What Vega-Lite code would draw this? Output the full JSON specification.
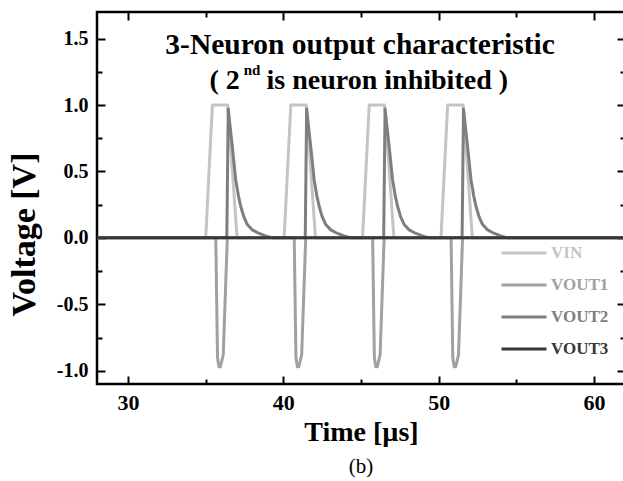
{
 "$schema": "https://vega.github.io/schema/vega-lite/v6.json",
 "width": 528,
 "height": 372,
 "autosize": {"type": "none"},
 "padding": {"left": 97, "top": 12, "right": 0, "bottom": 97},
 "background": "white",
 "config": {
  "view": {"stroke": "black", "strokeWidth": 2.5},
  "font": "Liberation Serif",
  "axis": {"grid": false}
 },
 "title": {"text": "(b)", "orient": "bottom", "anchor": "middle", "fontSize": 21, "fontWeight": "normal", "font": "Liberation Serif", "color": "black", "offset": 10},
 "data": {"values": [
  {"s":"VIN","t":28,"v":0},
  {"s":"VIN","t":35.0,"v":0},{"s":"VIN","t":35.43,"v":1},{"s":"VIN","t":36.42,"v":1},{"s":"VIN","t":37.02,"v":0},
  {"s":"VIN","t":40.05,"v":0},{"s":"VIN","t":40.48,"v":1},{"s":"VIN","t":41.47,"v":1},{"s":"VIN","t":42.07,"v":0},
  {"s":"VIN","t":45.1,"v":0},{"s":"VIN","t":45.53,"v":1},{"s":"VIN","t":46.52,"v":1},{"s":"VIN","t":47.12,"v":0},
  {"s":"VIN","t":50.15,"v":0},{"s":"VIN","t":50.58,"v":1},{"s":"VIN","t":51.57,"v":1},{"s":"VIN","t":52.17,"v":0},
  {"s":"VIN","t":62,"v":0},
  {"s":"VOUT1","t":28,"v":0},
  {"s":"VOUT1","t":35.65,"v":0},{"s":"VOUT1","t":35.76,"v":-0.9},{"s":"VOUT1","t":35.85,"v":-0.97},{"s":"VOUT1","t":35.95,"v":-0.97},{"s":"VOUT1","t":36.13,"v":-0.88},{"s":"VOUT1","t":36.39,"v":0},
  {"s":"VOUT1","t":40.7,"v":0},{"s":"VOUT1","t":40.81,"v":-0.9},{"s":"VOUT1","t":40.9,"v":-0.97},{"s":"VOUT1","t":41.0,"v":-0.97},{"s":"VOUT1","t":41.18,"v":-0.88},{"s":"VOUT1","t":41.44,"v":0},
  {"s":"VOUT1","t":45.75,"v":0},{"s":"VOUT1","t":45.86,"v":-0.9},{"s":"VOUT1","t":45.95,"v":-0.97},{"s":"VOUT1","t":46.05,"v":-0.97},{"s":"VOUT1","t":46.23,"v":-0.88},{"s":"VOUT1","t":46.49,"v":0},
  {"s":"VOUT1","t":50.8,"v":0},{"s":"VOUT1","t":50.91,"v":-0.9},{"s":"VOUT1","t":51.0,"v":-0.97},{"s":"VOUT1","t":51.1,"v":-0.97},{"s":"VOUT1","t":51.28,"v":-0.88},{"s":"VOUT1","t":51.54,"v":0},
  {"s":"VOUT1","t":62,"v":0},
  {"s":"VOUT2","t":28,"v":0},
  {"s":"VOUT2","t":36.36,"v":0},{"s":"VOUT2","t":36.45,"v":0.97},{"s":"VOUT2","t":36.55,"v":0.86},{"s":"VOUT2","t":36.71,"v":0.69},{"s":"VOUT2","t":36.93,"v":0.44},{"s":"VOUT2","t":37.1,"v":0.32},{"s":"VOUT2","t":37.25,"v":0.24},{"s":"VOUT2","t":37.45,"v":0.16},{"s":"VOUT2","t":37.68,"v":0.1},{"s":"VOUT2","t":38.0,"v":0.06},{"s":"VOUT2","t":38.32,"v":0.04},{"s":"VOUT2","t":38.97,"v":0.01},{"s":"VOUT2","t":39.3,"v":0},
  {"s":"VOUT2","t":41.41,"v":0},{"s":"VOUT2","t":41.5,"v":0.97},{"s":"VOUT2","t":41.6,"v":0.86},{"s":"VOUT2","t":41.76,"v":0.69},{"s":"VOUT2","t":41.98,"v":0.44},{"s":"VOUT2","t":42.15,"v":0.32},{"s":"VOUT2","t":42.3,"v":0.24},{"s":"VOUT2","t":42.5,"v":0.16},{"s":"VOUT2","t":42.73,"v":0.1},{"s":"VOUT2","t":43.05,"v":0.06},{"s":"VOUT2","t":43.37,"v":0.04},{"s":"VOUT2","t":44.02,"v":0.01},{"s":"VOUT2","t":44.35,"v":0},
  {"s":"VOUT2","t":46.46,"v":0},{"s":"VOUT2","t":46.55,"v":0.97},{"s":"VOUT2","t":46.65,"v":0.86},{"s":"VOUT2","t":46.81,"v":0.69},{"s":"VOUT2","t":47.03,"v":0.44},{"s":"VOUT2","t":47.2,"v":0.32},{"s":"VOUT2","t":47.35,"v":0.24},{"s":"VOUT2","t":47.55,"v":0.16},{"s":"VOUT2","t":47.78,"v":0.1},{"s":"VOUT2","t":48.1,"v":0.06},{"s":"VOUT2","t":48.42,"v":0.04},{"s":"VOUT2","t":49.07,"v":0.01},{"s":"VOUT2","t":49.4,"v":0},
  {"s":"VOUT2","t":51.51,"v":0},{"s":"VOUT2","t":51.6,"v":0.97},{"s":"VOUT2","t":51.7,"v":0.86},{"s":"VOUT2","t":51.86,"v":0.69},{"s":"VOUT2","t":52.08,"v":0.44},{"s":"VOUT2","t":52.25,"v":0.32},{"s":"VOUT2","t":52.4,"v":0.24},{"s":"VOUT2","t":52.6,"v":0.16},{"s":"VOUT2","t":52.83,"v":0.1},{"s":"VOUT2","t":53.15,"v":0.06},{"s":"VOUT2","t":53.47,"v":0.04},{"s":"VOUT2","t":54.12,"v":0.01},{"s":"VOUT2","t":54.45,"v":0},
  {"s":"VOUT2","t":62,"v":0},
  {"s":"VOUT3","t":28,"v":0},
  {"s":"VOUT3","t":62,"v":0}
 ]},
 "layer": [
  {
   "mark": {"type": "line", "strokeWidth": 3, "clip": true, "strokeJoin": "round"},
   "encoding": {
    "x": {"field": "t", "type": "quantitative", "scale": {"domain": [28, 62], "nice": false, "zero": false},
     "axis": {"orient": "bottom", "values": [30, 40, 50, 60], "ticks": false, "domain": false, "labelPadding": 8, "labelFont": "Liberation Serif", "labelFontSize": 22, "labelFontWeight": "bold", "labelColor": "black", "labelFlush": false, "labelOverlap": false,
      "title": "Time [µs]", "titleFont": "Liberation Serif", "titleFontSize": 28, "titleFontWeight": "bold", "titleColor": "black", "titleY": 56, "titleBaseline": "alphabetic"}},
    "y": {"field": "v", "type": "quantitative", "scale": {"domain": [-1.1, 1.7], "nice": false, "zero": false},
     "axis": {"orient": "left", "values": [-1, -0.5, 0, 0.5, 1, 1.5], "labelExpr": "replace(format(datum.value, '.1f'), '\u2212', '-')", "ticks": false, "domain": false, "labelPadding": 9, "labelFont": "Liberation Serif", "labelFontSize": 20, "labelFontWeight": "bold", "labelColor": "black", "labelFlush": false, "labelOverlap": false,
      "title": "Voltage [V]", "titleFont": "Liberation Serif", "titleFontSize": 34, "titleFontWeight": "bold", "titleColor": "black", "titleX": -73, "titleY": 222, "titleAngle": 270, "titleAlign": "center", "titleBaseline": "middle"}},
    "color": {"field": "s", "type": "nominal",
     "scale": {"domain": ["VIN", "VOUT1", "VOUT2", "VOUT3"], "range": ["#c4c4c4", "#a0a0a0", "#7e7e7e", "#383838"]},
     "legend": {"orient": "none", "legendX": 403, "legendY": 217, "title": null, "symbolType": "stroke", "symbolSize": 2025, "symbolStrokeWidth": 3, "labelFont": "Liberation Serif", "labelFontSize": 17, "labelFontWeight": "bold", "rowPadding": -17, "labelOffset": 3, "padding": 0,
      "encode": {"labels": {"update": {"fill": {"scale": "color", "field": "value"}}}}}}
   }
  },
  {
   "mark": {"type": "point", "opacity": 0},
   "encoding": {
    "x": {"field": "t", "type": "quantitative", "scale": {"domain": [28, 62], "nice": false, "zero": false},
     "axis": {"orient": "bottom", "values": [30, 40, 50, 60], "labels": false, "domain": false, "ticks": true, "tickSize": -8, "tickWidth": 2, "tickColor": "black", "title": null}},
    "y": {"field": "v", "type": "quantitative", "scale": {"domain": [-1.1, 1.7], "nice": false, "zero": false},
     "axis": {"orient": "left", "values": [-1, -0.5, 0, 0.5, 1, 1.5], "labels": false, "domain": false, "ticks": true, "tickSize": -8, "tickWidth": 2, "tickColor": "black", "title": null}}
   }
  },
  {
   "mark": {"type": "point", "opacity": 0},
   "encoding": {
    "x": {"field": "t", "type": "quantitative", "scale": {"domain": [28, 62], "nice": false, "zero": false},
     "axis": {"orient": "bottom", "values": [35, 45, 55], "labels": false, "domain": false, "ticks": true, "tickSize": -5, "tickWidth": 2, "tickColor": "black", "title": null}},
    "y": {"field": "v", "type": "quantitative", "scale": {"domain": [-1.1, 1.7], "nice": false, "zero": false},
     "axis": {"orient": "left", "values": [-0.75, -0.25, 0.25, 0.75, 1.25], "labels": false, "domain": false, "ticks": true, "tickSize": -5, "tickWidth": 2, "tickColor": "black", "title": null}}
   }
  },
  {
   "mark": {"type": "point", "opacity": 0},
   "encoding": {
    "x": {"field": "t", "type": "quantitative", "scale": {"domain": [28, 62], "nice": false, "zero": false},
     "axis": {"orient": "top", "values": [30, 40, 50, 60], "labels": false, "domain": false, "ticks": true, "tickSize": -8, "tickWidth": 2, "tickColor": "black", "title": null}},
    "y": {"field": "v", "type": "quantitative", "scale": {"domain": [-1.1, 1.7], "nice": false, "zero": false},
     "axis": {"orient": "right", "values": [-1, -0.5, 0, 0.5, 1, 1.5], "labels": false, "domain": false, "ticks": true, "tickSize": -8, "tickWidth": 2, "tickColor": "black", "title": null}}
   }
  },
  {
   "mark": {"type": "point", "opacity": 0},
   "encoding": {
    "x": {"field": "t", "type": "quantitative", "scale": {"domain": [28, 62], "nice": false, "zero": false},
     "axis": {"orient": "top", "values": [35, 45, 55], "labels": false, "domain": false, "ticks": true, "tickSize": -5, "tickWidth": 2, "tickColor": "black", "title": null}},
    "y": {"field": "v", "type": "quantitative", "scale": {"domain": [-1.1, 1.7], "nice": false, "zero": false},
     "axis": {"orient": "right", "values": [-0.75, -0.25, 0.25, 0.75, 1.25], "labels": false, "domain": false, "ticks": true, "tickSize": -5, "tickWidth": 2, "tickColor": "black", "title": null}}
   }
  },
  {
   "data": {"values": [{}]},
   "mark": {"type": "text", "text": "3-Neuron output characteristic", "font": "Liberation Serif", "fontSize": 29.5, "fontWeight": "bold", "align": "center", "baseline": "alphabetic", "color": "black"},
   "encoding": {
    "x": {"datum": 44.94, "type": "quantitative", "axis": null},
    "y": {"datum": 1.385, "type": "quantitative", "axis": null}
   }
  },
  {
   "data": {"values": [{}]},
   "mark": {"type": "text", "text": "( 2", "font": "Liberation Serif", "fontSize": 28, "fontWeight": "bold", "align": "right", "baseline": "alphabetic", "color": "black"},
   "encoding": {
    "x": {"datum": 37.2, "type": "quantitative", "axis": null},
    "y": {"datum": 1.121, "type": "quantitative", "axis": null}
   }
  },
  {
   "data": {"values": [{}]},
   "mark": {"type": "text", "text": "nd", "font": "Liberation Serif", "fontSize": 15, "fontWeight": "bold", "align": "left", "baseline": "alphabetic", "color": "black"},
   "encoding": {
    "x": {"datum": 37.45, "type": "quantitative", "axis": null},
    "y": {"datum": 1.225, "type": "quantitative", "axis": null}
   }
  },
  {
   "data": {"values": [{}]},
   "mark": {"type": "text", "text": "is neuron inhibited )", "font": "Liberation Serif", "fontSize": 28, "fontWeight": "bold", "align": "left", "baseline": "alphabetic", "color": "black"},
   "encoding": {
    "x": {"datum": 38.92, "type": "quantitative", "axis": null},
    "y": {"datum": 1.121, "type": "quantitative", "axis": null}
   }
  }
 ],
 "resolve": {"axis": {"x": "independent", "y": "independent"}}
}
